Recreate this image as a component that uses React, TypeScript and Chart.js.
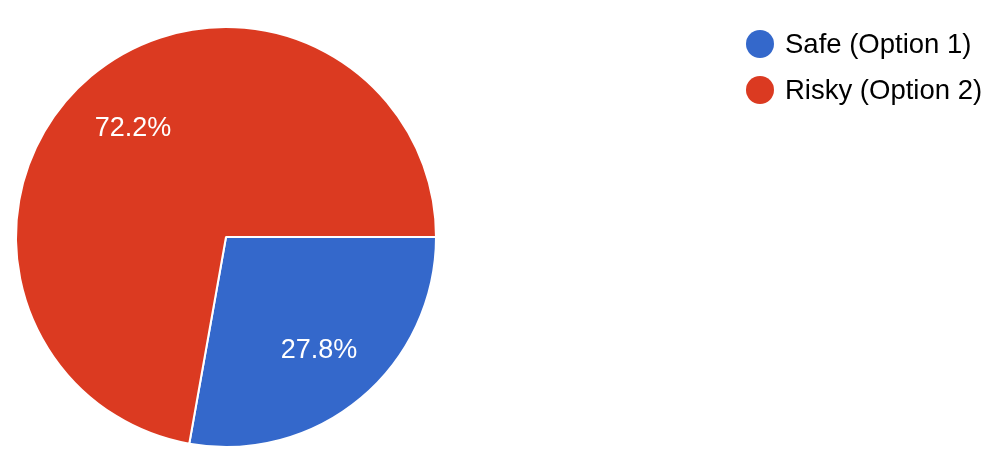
import React, { useEffect, useRef } from "react";
import { Chart, registerables } from "chart.js";

Chart.register(...registerables);

const categories = ["Safe (Option 1)", "Risky (Option 2)"];
const values = [27.8, 72.2];
const percentLabels = ["27.8%", "72.2%"];
const colors = ["#3468CB", "#DB3A21"];

const FONT = '"Liberation Sans", Arial, Helvetica, sans-serif';

const sliceLabelPlugin = {
  id: "sliceLabels",
  afterDatasetsDraw(chart: any) {
    const ctx = chart.ctx;
    const meta = chart.getDatasetMeta(0);
    ctx.save();
    ctx.fillStyle = "#FFFFFF";
    ctx.font = `27px ${FONT}`;
    ctx.textAlign = "center";
    ctx.textBaseline = "alphabetic";
    meta.data.forEach((arc: any, i: number) => {
      const p = arc.getProps(["x", "y", "startAngle", "endAngle", "outerRadius"], true);
      const mid = (p.startAngle + p.endAngle) / 2;
      const r = p.outerRadius * 0.69;
      const x = p.x + Math.cos(mid) * r;
      const y = p.y + Math.sin(mid) * r;
      ctx.fillText(percentLabels[i], x, y + 9.7);
    });
    ctx.restore();
  },
};

export default function App() {
  const canvasRef = useRef<HTMLCanvasElement | null>(null);

  useEffect(() => {
    document.body.style.margin = "0";
    const canvas = canvasRef.current;
    if (!canvas) return;
    const chart = new Chart(canvas, {
      type: "pie",
      data: {
        labels: categories,
        datasets: [
          {
            data: values,
            backgroundColor: colors,
            borderColor: "#FFFFFF",
            borderWidth: 2,
          },
        ],
      },
      options: {
        animation: false,
        responsive: false,
        rotation: 90,
        radius: 210,
        layout: { padding: { left: 16, right: 572, top: 27, bottom: 11 } },
        plugins: {
          legend: { display: false },
          tooltip: { enabled: false },
        },
      },
      plugins: [sliceLabelPlugin],
    });
    return () => chart.destroy();
  }, []);

  const legendRows = [44, 90];

  return (
    <div style={{ position: "relative", width: 1008, height: 458, background: "#FFFFFF", overflow: "hidden" }}>
      <canvas ref={canvasRef} width={1008} height={458} style={{ position: "absolute", left: 0, top: 0 }} />
      {categories.map((c, i) => (
        <div
          key={c}
          style={{
            position: "absolute",
            left: 746,
            top: legendRows[i] - 15,
            height: 30,
            display: "flex",
            alignItems: "center",
            whiteSpace: "nowrap",
          }}
        >
          <div
            style={{
              width: 28,
              height: 28,
              borderRadius: "50%",
              background: colors[i],
              marginRight: 11,
              flex: "none",
            }}
          />
          <span style={{ fontFamily: FONT, fontSize: 27.5, lineHeight: "30px", color: "#000000" }}>{c}</span>
        </div>
      ))}
    </div>
  );
}
